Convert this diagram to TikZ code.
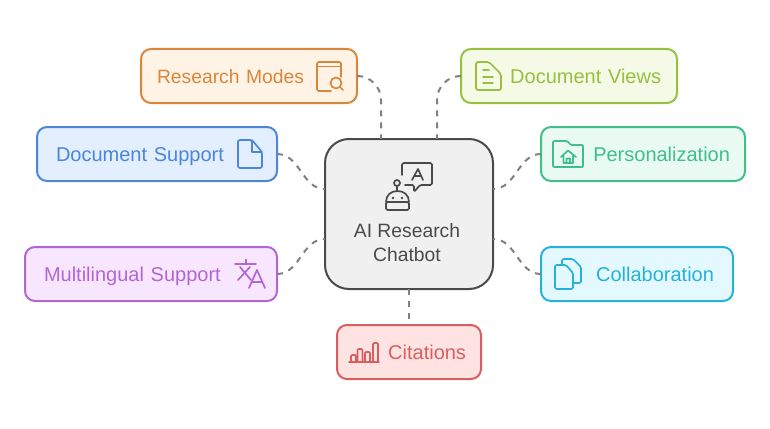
\documentclass[tikz,border=0pt]{standalone}
\usepackage{fontspec}
\setmainfont{Liberation Sans}
\usepackage{xcolor}
\usetikzlibrary{positioning}
\definecolor{hubline}{HTML}{4A4A4A}
\definecolor{hubfill}{HTML}{F0F0F0}
\definecolor{linkgray}{HTML}{808080}
\definecolor{rmline}{HTML}{D9863D}
\definecolor{rmfill}{HTML}{FFF3E6}
\definecolor{dvline}{HTML}{97BF40}
\definecolor{dvfill}{HTML}{F4FAE6}
\definecolor{peline}{HTML}{40BF8C}
\definecolor{pefill}{HTML}{E8FAF1}
\definecolor{dsline}{HTML}{4A86D9}
\definecolor{dsfill}{HTML}{E3EEFF}
\definecolor{mlline}{HTML}{B266D6}
\definecolor{mlfill}{HTML}{F8E6FF}
\definecolor{coline}{HTML}{26B0DC}
\definecolor{cofill}{HTML}{E3F9FF}
\definecolor{ciline}{HTML}{D95F5F}
\definecolor{cifill}{HTML}{FFE3E3}

\begin{document}
\begin{tikzpicture}[x=1pt,y=-1pt]
  \tikzset{box/.style = {shape=rectangle,draw,rounded corners=10pt,line width=2pt,outer sep=0pt,minimum height=54pt,inner ysep=0pt,text height=15pt,text depth=0pt,font=\fontsize{20}{24}\selectfont}}
  \tikzset{hub/.style = {shape=rectangle,draw=hubline,fill=hubfill,text=hubline,rounded corners=24pt,line width=2pt,outer sep=0pt,minimum width=168pt,minimum height=150pt,align=center,font=\fontsize{19.3}{24}\selectfont}}
  \tikzset{link/.style = {draw=linkgray,line width=2pt,dash pattern=on 6pt off 6pt}}
  \tikzset{icon/.style = {line width=1.7pt,line join=round,line cap=round}}

  \useasboundingbox (0,0) rectangle (770,428);

  \node[hub] (AI) at (409,214) {\rule{0pt}{47pt}\\\mbox{AI Research\hspace{4pt}}\\\mbox{Chatbot\hspace{4pt}}};

  \node[box,draw=rmline,fill=rmfill,text=rmline,inner xsep=16pt,text width=184pt,align=left,font=\fontsize{19.3}{24}\selectfont] (RM) at (249,76) {Research Modes};
  \node[box,draw=dvline,fill=dvfill,text=dvline,inner xsep=16pt,text width=184pt,align=right] (DV) at (569,76) {Document Views};
  \node[box,draw=peline,fill=pefill,text=peline,inner xsep=15pt,text width=174pt,align=right] (PE) at (643,154) {Personalization};
  \node[box,draw=dsline,fill=dsfill,text=dsline,inner xsep=19pt,text width=202pt,align=left] (DS) at (157,154) {Document Support};
  \node[box,draw=mlline,fill=mlfill,text=mlline,inner xsep=19pt,text width=214pt,align=left] (ML) at (151,274) {Multilingual Support};
  \node[box,draw=coline,fill=cofill,text=coline,inner xsep=19pt,text width=154pt,align=right] (CO) at (637,274) {Collaboration};
  \node[box,draw=ciline,fill=cifill,text=ciline,inner xsep=15pt,text width=114pt,align=right] (CI) at (409,352) {Citations};

  \coordinate (AItl) at (381,139);
  \coordinate (AItr) at (437,139);
  \coordinate (AIlu) at (325,189);
  \coordinate (AIld) at (325,239);
  \coordinate (AIru) at (493,189);
  \coordinate (AIrd) at (493,239);

  \draw[link,rounded corners=24pt] (RM.east) -| (AItl);
  \draw[link,rounded corners=24pt] (DV.west) -| (AItr);
  \foreach \from/\to in {DS/AIlu, ML/AIld}
    \path[link] (\from.east) edge[out=0,in=180] (\to);
  \foreach \from/\to in {PE/AIru, CO/AIrd}
    \path[link] (\from.west) edge[out=180,in=0] (\to);
  \draw[link] (AI.south) -- (CI.north);

  % chatbot icon
  \draw[icon,hubline,rounded corners=1.5pt] (402,175) -- (402,163) -- (432,163) -- (432,185) -- (420,185) -- (414,192) -- (414,185) -- (405,185);
  \draw[icon,hubline] (412,180) -- (418,169) -- (423,180) (414,176) -- (421,176);
  \draw[icon,hubline] (397,183) circle (3pt) (397,186) -- (397,191);
  \draw[icon,hubline] (386,202) .. controls (386,195) and (391,191) .. (397.5,191) .. controls (404,191) and (409,195) .. (409,202);
  \draw[icon,hubline,rounded corners=1.5pt] (386,202) rectangle (409,210);
  \fill[hubline] (393,198) circle (1.4pt) (402,198) circle (1.4pt);

  % research modes icon
  \draw[icon,rmline,rounded corners=1.5pt] (331,91) -- (317,91) -- (317,62) -- (341,62) -- (341,77);
  \draw[icon,rmline] (317,66.5) -- (341,66.5);
  \draw[icon,rmline] (336,83) circle (5.5pt) (340,87) -- (343,90);

  % document views icon
  \draw[icon,dvline,rounded corners=2pt] (476,62) -- (489,62) -- (501,74) -- (501,90) -- (476,90) -- cycle;
  \draw[icon,dvline] (483,70) -- (489,70) (483,77) -- (493,77) (483,83) -- (493,83);

  % personalization icon
  \draw[icon,peline,rounded corners=1pt] (553,167) -- (553,141) -- (567,141) -- (571,145) -- (583,145) -- (583,167) -- cycle;
  \draw[icon,peline] (561,157) -- (568,150.5) -- (576,157) (563.5,156) -- (563.5,163) -- (573,163) -- (573,156) (566.5,163) -- (566.5,158.5) -- (570,158.5) -- (570,163);

  % document support icon
  \draw[icon,dsline,rounded corners=2pt] (238,140) -- (252,140) -- (262,152) -- (262,168) -- (238,168) -- cycle;
  \draw[icon,dsline] (252,140) -- (252,152) -- (262,152);

  % multilingual icon
  \draw[icon,mlline] (235,264) -- (256,264) (246,259.5) -- (246,264) (240,267) -- (251,280) (250,267) -- (238,280);
  \draw[icon,mlline] (249,288) -- (257,270) -- (265,288) (252,282) -- (262,282);

  % collaboration icon
  \draw[icon,coline,rounded corners=1.5pt] (555,265) -- (566,265) -- (573,273) -- (573,289) -- (555,289) -- cycle;
  \draw[icon,coline,rounded corners=1.5pt] (562,265) -- (562,259) -- (573,259) -- (581,267) -- (581,283) -- (573,283);

  % citations icon
  \draw[icon,ciline] (349,362) -- (379,362);
  \foreach \x/\w/\t in {351/5/355, 357.5/5/349, 365/5/352, 373/5/343}
    \draw[icon,ciline,rounded corners=1pt] (\x,362) -- (\x,\t) -- (\x+\w,\t) -- (\x+\w,362);

\end{tikzpicture}
\end{document}
